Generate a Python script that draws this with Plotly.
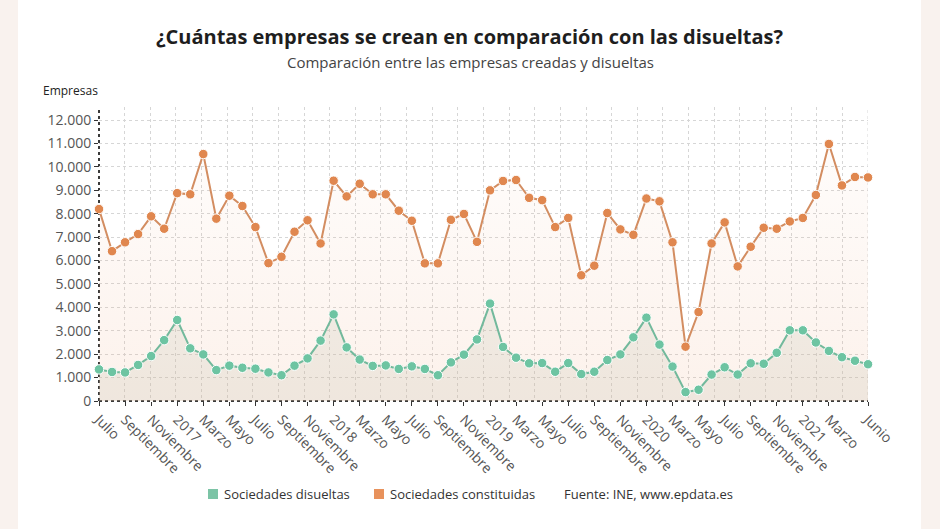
import plotly.graph_objects as go

# ---------------- data ----------------
meses = ["Julio", "Agosto", "Septiembre", "Octubre", "Noviembre", "Diciembre"] + \
        ["Enero", "Febrero", "Marzo", "Abril", "Mayo", "Junio", "Julio", "Agosto",
         "Septiembre", "Octubre", "Noviembre", "Diciembre"] * 4 + \
        ["Enero", "Febrero", "Marzo", "Abril", "Mayo", "Junio"]
idx = list(range(len(meses)))

constituidas = [8200, 6400, 6780, 7130, 7890, 7360,
                8880, 8830, 10550, 7790, 8770, 8330, 7430, 5890, 6160, 7230, 7720, 6730,
                9410, 8740, 9280, 8830, 8830, 8130, 7700, 5880, 5880, 7740, 7990, 6800,
                9000, 9400, 9440, 8680, 8580, 7430, 7820, 5370, 5780, 8030, 7330, 7100,
                8650, 8530, 6780, 2320, 3800, 6730, 7630, 5750, 6590, 7400, 7360, 7670,
                7820, 8800, 10980, 9210, 9570, 9550]

disueltas = [1350, 1240, 1220, 1540, 1920, 2600,
             3460, 2250, 1990, 1320, 1510, 1420, 1380, 1220, 1100, 1510, 1820, 2580,
             3700, 2290, 1770, 1500, 1520, 1370, 1480, 1370, 1100, 1650, 1980, 2630,
             4160, 2310, 1850, 1610, 1620, 1250, 1620, 1150, 1250, 1750, 1990, 2720,
             3560, 2410, 1470, 380, 480, 1130, 1440, 1130, 1610, 1590, 2060, 3020,
             3020, 2500, 2140, 1870, 1720, 1570]

tick_vals = [0, 2, 4, 6, 8, 10, 12, 14, 16, 18, 20, 22, 24, 26, 28, 30, 32, 34,
             36, 38, 40, 42, 44, 46, 48, 50, 52, 54, 56, 59]
tick_text = ["Julio", "Septiembre", "Noviembre", "2017", "Marzo", "Mayo",
             "Julio", "Septiembre", "Noviembre", "2018", "Marzo", "Mayo",
             "Julio", "Septiembre", "Noviembre", "2019", "Marzo", "Mayo",
             "Julio", "Septiembre", "Noviembre", "2020", "Marzo", "Mayo",
             "Julio", "Septiembre", "Noviembre", "2021", "Marzo", "Junio"]
y_ticks = list(range(0, 13000, 1000))

series_names = ["Sociedades disueltas", "Sociedades constituidas"]
fuente = "Fuente: INE, www.epdata.es"

# ---------------- style ----------------
FONT = "Open Sans"
ORANGE_M = "#E0874F"
ORANGE_L = "#D38D61"
GREEN_M = "#6DC4A2"
GREEN_L = "#72B99C"
W, H = 940, 529
L, R, T, B = 99, 72, 107, 128
YMAX = 12560
n_grid = 30
xmax = idx[-1]
vgrid = [k * xmax / n_grid for k in range(n_grid + 1)]


def py2paper(py):
    return (H - B - py) / (H - B - T)


def px2paper(px):
    return (px - L) / (W - L - R)


fig = go.Figure()

fig.add_trace(go.Scatter(
    x=idx, y=constituidas, mode="lines+markers", name=series_names[1],
    line=dict(color=ORANGE_L, width=2),
    marker=dict(color=ORANGE_M, size=9.5, line=dict(color="white", width=1)),
    fill="tozeroy",
    fillgradient=dict(type="vertical", start=0, stop=11000,
                      colorscale=[[0, "rgba(238,170,130,0.16)"],
                                  [1, "rgba(238,170,130,0.03)"]]),
    showlegend=False, cliponaxis=False))

fig.add_trace(go.Scatter(
    x=idx, y=disueltas, mode="lines+markers", name=series_names[0],
    line=dict(color=GREEN_L, width=2),
    marker=dict(color=GREEN_M, size=9.5, line=dict(color="white", width=1)),
    fill="tozeroy", fillcolor="rgba(190,190,170,0.20)",
    showlegend=False, cliponaxis=False))

shapes = [
    # side blurred background strips
    dict(type="rect", xref="paper", yref="paper", x0=px2paper(0), x1=px2paper(18),
         y0=py2paper(H), y1=py2paper(0), fillcolor="#f9f2ee", line_width=0, layer="below"),
    dict(type="rect", xref="paper", yref="paper", x0=px2paper(921), x1=px2paper(W),
         y0=py2paper(H), y1=py2paper(0), fillcolor="#f9f2ee", line_width=0, layer="below"),
    # right border grid line
    dict(type="line", xref="x", yref="paper", x0=xmax, x1=xmax, y0=0, y1=1,
         line=dict(color="#d6d6d6", width=1, dash="dot"), layer="below"),
    # dotted axis lines
    dict(type="line", xref="paper", yref="paper", x0=0, x1=0, y0=0, y1=1,
         line=dict(color="#3a3a3a", width=2, dash="dot"), layer="between"),
    dict(type="line", xref="paper", yref="paper", x0=0, x1=1, y0=0, y1=0,
         line=dict(color="#3a3a3a", width=2, dash="dot"), layer="between"),
    # legend swatches
    dict(type="rect", xref="paper", yref="paper", x0=px2paper(208), x1=px2paper(218),
         y0=py2paper(499), y1=py2paper(489), fillcolor="#7CC4A6", line_width=0),
    dict(type="rect", xref="paper", yref="paper", x0=px2paper(374), x1=px2paper(384),
         y0=py2paper(499), y1=py2paper(489), fillcolor="#E8925C", line_width=0),
]

annotations = [
    dict(text="<b>¿Cuántas empresas se crean en comparación con las disueltas?</b>",
         xref="paper", yref="paper", x=px2paper(470), y=py2paper(37),
         xanchor="center", yanchor="middle", showarrow=False,
         font=dict(family=FONT, size=20, color="#1e1e1e")),
    dict(text="Comparación entre las empresas creadas y disueltas",
         xref="paper", yref="paper", x=px2paper(470), y=py2paper(62),
         xanchor="center", yanchor="middle", showarrow=False,
         font=dict(family=FONT, size=15, color="#444444")),
    dict(text="Empresas", xref="paper", yref="paper", x=px2paper(41), y=py2paper(90),
         xanchor="left", yanchor="middle", showarrow=False,
         font=dict(family=FONT, size=12, color="#222222")),
    dict(text=series_names[0], xref="paper", yref="paper",
         x=px2paper(222), y=py2paper(494), xanchor="left", yanchor="middle",
         showarrow=False, font=dict(family=FONT, size=13, color="#333333")),
    dict(text=series_names[1], xref="paper", yref="paper",
         x=px2paper(388), y=py2paper(494), xanchor="left", yanchor="middle",
         showarrow=False, font=dict(family=FONT, size=13, color="#333333")),
    dict(text=fuente, xref="paper", yref="paper",
         x=px2paper(562), y=py2paper(494), xanchor="left", yanchor="middle",
         showarrow=False, font=dict(family=FONT, size=13, color="#333333")),
]

fig.update_layout(
    width=W, height=H,
    margin=dict(l=L, r=R, t=T, b=B, autoexpand=False),
    paper_bgcolor="white", plot_bgcolor="white",
    separators=",.",
    font=dict(family=FONT, color="#555555"),
    shapes=shapes, annotations=annotations,
    showlegend=False,
    xaxis=dict(range=[0, xmax], tickmode="array", tickvals=tick_vals, ticktext=tick_text,
               tickangle=45, ticks="outside", ticklen=4, tickcolor="#333333",
               tickfont=dict(family=FONT, size=14, color="#555555"),
               showgrid=False, zeroline=False, showline=False,
               minor=dict(tickmode="array", tickvals=vgrid, showgrid=True,
                          gridcolor="#d6d6d6", griddash="dot", gridwidth=1, ticks="")),
    yaxis=dict(range=[0, YMAX], tickmode="array", tickvals=y_ticks, tickformat=",d",
               ticks="outside", ticklen=4, tickcolor="#333333",
               tickfont=dict(family=FONT, size=14, color="#555555"),
               showgrid=True, gridcolor="#d6d6d6", griddash="dot", gridwidth=1,
               zeroline=False, showline=False),
)

fig.write_html("out.html", config={"displayModeBar": False},
               post_script="document.body.style.margin='0';document.body.style.overflow='hidden';")
